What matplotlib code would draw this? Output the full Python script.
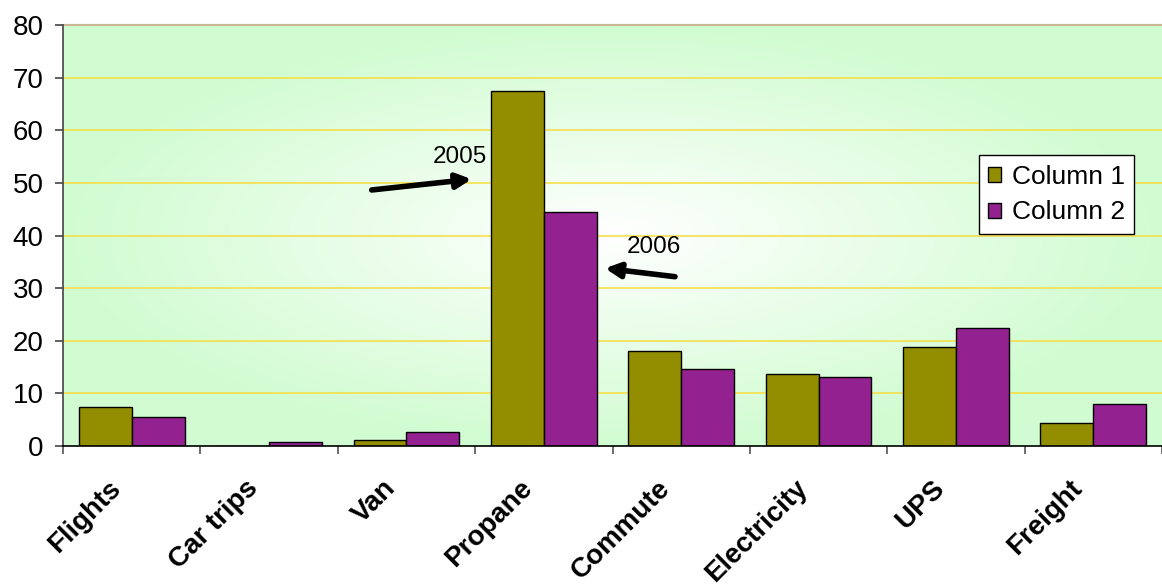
import numpy as np
import matplotlib
matplotlib.use("Agg")
import matplotlib.pyplot as plt
from matplotlib.transforms import ScaledTranslation

# ---- data ----
categories = ["Flights", "Car trips", "Van", "Propane", "Commute",
              "Electricity", "UPS", "Freight"]
column1 = [7.5, 0.0, 1.1, 67.5, 18.1, 13.6, 18.9, 4.4]
column2 = [5.6, 0.7, 2.6, 44.4, 14.7, 13.2, 22.4, 7.9]
series_names = ["Column 1", "Column 2"]
y_ticks = [0, 10, 20, 30, 40, 50, 60, 70, 80]

OLIVE = "#928E00"
PURPLE = "#932290"

plt.rcParams["font.family"] = ["Liberation Sans", "DejaVu Sans"]

fig = plt.figure(figsize=(11.62, 5.88), dpi=100)
ax = fig.add_axes([63 / 1162, 1 - 446 / 588, 1 - 63 / 1162, (446 - 25) / 588])

n = len(categories)
x = np.arange(n)
xlim = (-0.5, n - 0.5)
ylim = (0, 80)

# radial white-to-green background of the plot area
gx = np.linspace(-1, 1, 600)
gy = np.linspace(-1, 1, 300)
GX, GY = np.meshgrid(gx, gy)
t = np.clip(np.sqrt(GX ** 2 + GY ** 2), 0, 1)
edge = np.array([0.82, 0.99, 0.82])
img = (1 - t[..., None]) * np.ones(3) + t[..., None] * edge
ax.imshow(img, extent=(xlim[0], xlim[1], ylim[0], ylim[1]),
          aspect="auto", origin="lower", zorder=0, interpolation="bilinear")

# horizontal gridlines
for v in y_ticks[1:-1]:
    ax.axhline(v, color="#F5E04A", lw=1.2, zorder=1)
ax.axhline(80, color="#C8B896", lw=1.5, zorder=1, clip_on=False)

w = 0.385
ax.bar(x - w / 2, column1, width=w, color=OLIVE, edgecolor="black",
       linewidth=1.0, zorder=2, label=series_names[0])
ax.bar(x + w / 2, column2, width=w, color=PURPLE, edgecolor="black",
       linewidth=1.0, zorder=2, label=series_names[1])

ax.set_xlim(*xlim)
ax.set_ylim(*ylim)

# axes styling
for s in ["top", "right"]:
    ax.spines[s].set_visible(False)
ax.spines["left"].set_color("#444444")
ax.spines["left"].set_linewidth(1.2)
ax.spines["bottom"].set_color("black")
ax.spines["bottom"].set_linewidth(1.2)
ax.spines["left"].set_zorder(3)
ax.spines["bottom"].set_zorder(3)

ax.set_yticks(y_ticks)
ax.set_yticklabels([str(v) for v in y_ticks])
ax.tick_params(axis="y", direction="out", length=6, width=1.2,
               color="#444444", labelsize=20, pad=8)

# category ticks at group boundaries, labels at group centres
ax.set_xticks(np.arange(n + 1) - 0.5)
ax.set_xticklabels([])
ax.tick_params(axis="x", which="major", direction="out", length=6,
               width=1.2, color="#555555")
ax.set_xticks(x, minor=True)
ax.set_xticklabels(categories, minor=True, rotation=45, ha="right",
                   rotation_mode="anchor", fontsize=20, fontweight="bold")
ax.tick_params(axis="x", which="minor", length=0, pad=21)
shift = ScaledTranslation(-24 / 100, 0, fig.dpi_scale_trans)
for lbl in ax.get_xticklabels(minor=True):
    lbl.set_transform(lbl.get_transform() + shift)

leg = ax.legend(loc="center", bbox_to_anchor=(0.904, 0.5975),
                fontsize=19, frameon=True, fancybox=False,
                handlelength=0.5, handleheight=0.5, handletextpad=0.4,
                labelspacing=0.45, borderpad=0.35, borderaxespad=0)
leg.get_frame().set_edgecolor("black")
leg.get_frame().set_linewidth(1.0)
leg.get_frame().set_facecolor("white")
leg.get_frame().set_alpha(1)
leg.set_zorder(5)

# year call-outs
arrow_kw = dict(arrowstyle="-|>", color="black", lw=4,
                mutation_scale=22, shrinkA=0, shrinkB=0)
ax.annotate("", xy=(2.475, 50.7), xytext=(1.747, 48.65),
            arrowprops=arrow_kw, zorder=4)
ax.text(2.39, 54.97, "2005", fontsize=17.5, ha="center", va="center", zorder=4)
ax.annotate("", xy=(3.445, 33.77), xytext=(3.955, 32.17),
            arrowprops=arrow_kw, zorder=4)
ax.text(3.802, 37.72, "2006", fontsize=17.5, ha="center", va="center", zorder=4)

fig.savefig("out.png", dpi=100, facecolor="white")
